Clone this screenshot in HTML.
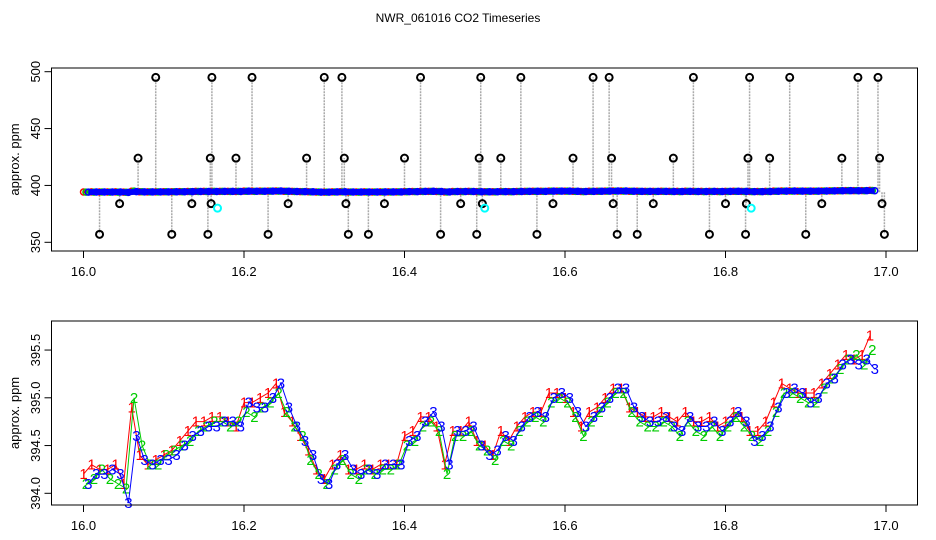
<!DOCTYPE html>
<html><head><meta charset="utf-8"><style>
body{margin:0;background:#fff}
svg{display:block;font-family:"Liberation Sans",Arial,sans-serif}
</style></head><body>
<svg id="c" width="936" height="540" xmlns="http://www.w3.org/2000/svg">
<rect width="936" height="540" fill="#fff"/>
<text x="458" y="22" font-size="12" text-anchor="middle">NWR_061016  CO2 Timeseries</text>
<g id="top"></g>
<g id="bot"></g>
</svg>
<script>
const s1=[394.2,394.3,394.25,394.25,394.3,394.1,394.9,394.4,394.3,394.35,394.4,394.45,394.55,394.65,394.75,394.75,394.8,394.8,394.75,394.7,394.95,394.95,395.0,395.05,395.15,394.85,394.75,394.6,394.45,394.25,394.15,394.3,394.4,394.25,394.25,394.3,394.25,394.3,394.3,394.3,394.6,394.65,394.8,394.8,394.7,394.3,394.65,394.65,394.75,394.55,394.5,394.4,394.65,394.55,394.7,394.8,394.85,394.85,395.05,395.05,395.0,394.85,394.7,394.85,394.9,395.0,395.1,395.1,394.9,394.85,394.8,394.8,394.85,394.8,394.75,394.85,394.75,394.75,394.8,394.7,394.75,394.85,394.8,394.65,394.65,394.75,394.95,395.15,395.1,395.05,395.05,395.05,395.15,395.25,395.35,395.45,395.4,395.45,395.65];
const s2=[394.1,394.15,394.25,394.15,394.1,394.05,395.0,394.5,394.3,394.3,394.4,394.45,394.5,394.55,394.65,394.7,394.75,394.75,394.7,394.75,394.85,394.8,394.9,394.95,395.05,394.85,394.7,394.6,394.35,394.2,394.1,394.25,394.35,394.2,394.15,394.25,394.2,394.25,394.25,394.3,394.5,394.55,394.7,394.75,394.65,394.2,394.6,394.6,394.65,394.5,394.45,394.35,394.55,394.5,394.65,394.75,394.8,394.75,394.95,395.0,394.95,394.8,394.6,394.75,394.85,394.95,395.05,395.05,394.85,394.75,394.7,394.7,394.75,394.7,394.6,394.75,394.65,394.6,394.7,394.6,394.7,394.8,394.7,394.6,394.55,394.65,394.85,395.05,395.05,395.0,394.95,394.95,395.1,395.2,395.3,395.4,395.45,395.35,395.5];
const s3=[394.1,394.2,394.2,394.25,394.2,393.9,394.6,394.35,394.3,394.35,394.35,394.4,394.5,394.6,394.65,394.7,394.7,394.75,394.75,394.7,394.95,394.9,394.9,395.0,395.15,394.9,394.7,394.55,394.4,394.15,394.1,394.3,394.4,394.25,394.2,394.25,394.2,394.3,394.3,394.3,394.55,394.6,394.75,394.85,394.7,394.3,394.65,394.65,394.7,394.5,394.4,394.45,394.6,394.55,394.7,394.8,394.85,394.8,395.0,395.05,395.0,394.85,394.7,394.8,394.9,395.0,395.1,395.1,394.9,394.8,394.75,394.75,394.8,394.7,394.65,394.8,394.7,394.7,394.75,394.65,394.75,394.85,394.75,394.55,394.6,394.7,394.9,395.05,395.1,395.05,394.95,395.0,395.15,395.2,395.35,395.4,395.35,395.4,395.3];
const outT=[16.02,16.045,16.068,16.09,16.11,16.135,16.155,16.158,16.16,16.159,16.19,16.21,16.23,16.255,16.278,16.30,16.322,16.325,16.327,16.33,16.355,16.375,16.40,16.42,16.445,16.47,16.49,16.493,16.495,16.497,16.52,16.545,16.565,16.585,16.61,16.635,16.655,16.658,16.66,16.665,16.69,16.71,16.735,16.76,16.78,16.80,16.825,16.828,16.83,16.826,16.855,16.88,16.90,16.92,16.945,16.965,16.99,16.992,16.995,16.998];
const outV=[357,384,424,495,357,384,357,424,495,384,424,495,357,384,424,495,495,424,384,357,357,384,424,495,357,384,357,424,495,384,424,495,357,384,424,495,495,424,384,357,357,384,424,495,357,384,357,424,495,384,424,495,357,384,424,495,495,424,384,357];
const cyanT=[16.167,16.5,16.832];
const cyanV=[380,380,380];
const xTicks=[16.0,16.2,16.4,16.6,16.8,17.0];
const topTicks=[350,400,450,500];
const botTicks=[394.0,394.5,395.0,395.5];

const NS="http://www.w3.org/2000/svg";
function mk(p,tag,a,txt){const e=document.createElementNS(NS,tag);for(const k in a)e.setAttribute(k,a[k]);if(txt!==undefined)e.textContent=txt;p.appendChild(e);return e;}
const X=t=>83.5+(t-16)*802.5;
const YT=v=>71.7+(500-v)*(170.6/150);
const YB=v=>493.3-(v-394)*95.5;
const T=(i,k)=>16+i*0.01+k*0.003;

function frame(g,top,bot,ticks,Y,name){
  let r=mk(g,'rect',{x:51.5,y:top,width:866,height:bot-top,fill:'none',stroke:'#000','stroke-width':1});
  
  
  xTicks.forEach(t=>{
    let l=mk(g,'line',{x1:X(t),x2:X(t),y1:bot,y2:bot+7,stroke:'#000'});
    
    
    let tx=mk(g,'text',{x:X(t),y:bot+25,'font-size':13,'text-anchor':'middle'},t.toFixed(1));
    
    
  });
  ticks.forEach(v=>{
    let y=Y(v);
    let l=mk(g,'line',{x1:44.5,x2:51.5,y1:y,y2:y,stroke:'#000'});
    
    
    let tx=mk(g,'text',{x:0,y:0,'font-size':13,'text-anchor':'middle',transform:`translate(40,${y}) rotate(-90)`},name==='top'?String(v):v.toFixed(1));
    
    
  });
  let yl=mk(g,'text',{x:0,y:0,'font-size':13,'text-anchor':'middle',transform:`translate(19,${(top+bot)/2}) rotate(-90)`},'approx. ppm');
  
  
}

const gt=document.getElementById('top'), gb=document.getElementById('bot');
outT.forEach((t,i)=>{
  let l=mk(gt,'line',{x1:X(t),x2:X(t),y1:YT(394),y2:YT(outV[i]),stroke:'#aaa','stroke-width':1.5,'stroke-dasharray':'2,1'});
  
  
});
[[s1,'#f00',0],[s2,'#0c0',1],[s3,'#00f',2]].forEach(([s,c,k])=>{
  let pts=s.map((v,i)=>X(T(i,k))+','+YT(v)).join(' ');
  let pl=mk(gt,'polyline',{points:pts,fill:'none',stroke:c,'stroke-width':k===2?6:3});
  
  
  s.forEach((v,i)=>{
    let ci=mk(gt,'circle',{cx:X(T(i,k)),cy:YT(v),r:3,fill:'none',stroke:c,'stroke-width':1.5});
    
    
  });
});
outT.forEach((t,i)=>{
  let ci=mk(gt,'circle',{cx:X(t),cy:YT(outV[i]),r:3.5,fill:'none',stroke:'#000','stroke-width':2});
  
  
});
cyanT.forEach((t,i)=>{
  let ci=mk(gt,'circle',{cx:X(t),cy:YT(cyanV[i]),r:3.5,fill:'none',stroke:'#0ff','stroke-width':2});
  
  
});
frame(gt,68,251,topTicks,YT,'top');

[[s1,'#f00',0,'1'],[s2,'#0c0',1,'2'],[s3,'#00f',2,'3']].forEach(([s,c,k,lab])=>{
  let pts=s.map((v,i)=>X(T(i,k))+','+YB(v)).join(' ');
  let pl=mk(gb,'polyline',{points:pts,fill:'none',stroke:c,'stroke-width':1});
  
  
  s.forEach((v,i)=>{
    let tx=mk(gb,'text',{x:X(T(i,k)),y:YB(v)+5,'font-size':15,fill:c,'text-anchor':'middle'},lab);
    
    
  });
});
frame(gb,321,505,botTicks,YB,'bottom');
</script>
</body></html>
